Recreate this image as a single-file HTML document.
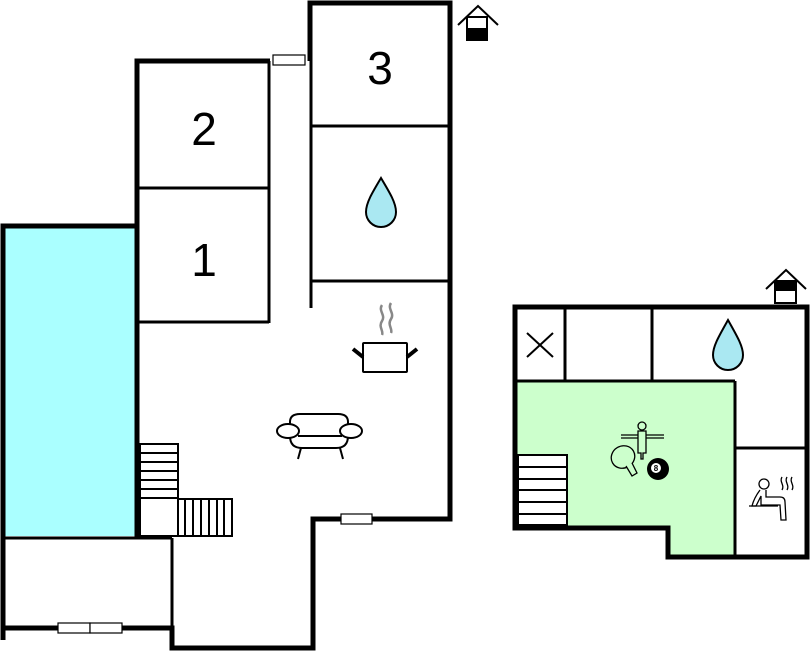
<!DOCTYPE html>
<html><head><style>html,body{margin:0;padding:0;background:#fff;width:810px;height:652px;overflow:hidden}</style></head>
<body>
<svg width="810" height="652" viewBox="0 0 810 652" xmlns="http://www.w3.org/2000/svg" font-family="Liberation Sans, sans-serif">
<!-- pool -->
<rect x="5" y="228" width="132" height="308" fill="#aaffff"/>
<!-- green -->
<polygon points="517,381 735,381 735,556 670,556 670,527 517,527" fill="#ccffcc"/>
<g stroke="#000" fill="none">
<!-- thick outer walls left building -->
<path d="M3,640 V226 H137 V61 H270 M310,61 V3 H450 V519 H313 V648 H172 V628 H3" stroke-width="5"/>
<line x1="137" y1="226" x2="137" y2="538" stroke-width="5"/>
<line x1="3" y1="537" x2="3" y2="630" stroke-width="4"/>
<!-- thin walls -->
<g stroke-width="3">
<line x1="269" y1="61" x2="269" y2="323"/>
<line x1="137" y1="188" x2="269" y2="188"/>
<line x1="137" y1="322" x2="269" y2="322"/>
<line x1="311" y1="61" x2="311" y2="308"/>
<line x1="311" y1="126" x2="450" y2="126"/>
<line x1="311" y1="281" x2="450" y2="281"/>
<line x1="3" y1="538" x2="172" y2="538"/>
<line x1="172" y1="538" x2="172" y2="628"/>
</g>
<!-- stairs left -->
<g stroke-width="2">
<rect x="140" y="444" width="38" height="92"/>
<line x1="140" y1="453" x2="178" y2="453"/><line x1="140" y1="462" x2="178" y2="462"/>
<line x1="140" y1="471" x2="178" y2="471"/><line x1="140" y1="480" x2="178" y2="480"/>
<line x1="140" y1="489" x2="178" y2="489"/><line x1="140" y1="498" x2="178" y2="498"/>
<rect x="178" y="499" width="54" height="37"/>
<line x1="185" y1="499" x2="185" y2="536"/><line x1="193" y1="499" x2="193" y2="536"/>
<line x1="201" y1="499" x2="201" y2="536"/><line x1="209" y1="499" x2="209" y2="536"/>
<line x1="217" y1="499" x2="217" y2="536"/><line x1="224" y1="499" x2="224" y2="536"/>
</g>
</g>
<!-- windows -->
<g fill="#fff" stroke="#000" stroke-width="1.2">
<rect x="273" y="55" width="32" height="10"/>
<rect x="341" y="514" width="31" height="10"/>
<rect x="58" y="623" width="32" height="10"/><rect x="90" y="623" width="32" height="10"/>
</g>
<!-- numbers -->
<g font-size="46" text-anchor="middle" fill="#000">
<text x="380" y="84">3</text>
<text x="204" y="145">2</text>
<text x="204" y="276">1</text>
</g>
<!-- drops -->
<path d="M381,178 C372,193 366,203 366,212 A15,15 0 0 0 396,212 C396,203 390,193 381,178 Z" fill="#aae8f2" stroke="#000" stroke-width="2"/>
<path d="M728,320 C719,336 713,346 713,355 A15,15 0 0 0 743,355 C743,346 737,336 728,320 Z" fill="#aae8f2" stroke="#000" stroke-width="2"/>
<!-- pot -->
<g stroke="#888" stroke-width="2.5" fill="none"><path d="M382,305 c-4,6 4,10 0,16 c-4,6 2,10 0,14"/><path d="M391,303 c-4,6 4,10 0,16 c-4,6 2,10 0,14"/></g>
<g stroke="#000" fill="none"><rect x="363" y="343" width="44" height="29" stroke-width="2" rx="1"/><line x1="353" y1="349" x2="363" y2="357" stroke-width="4"/><line x1="407" y1="357" x2="417" y2="349" stroke-width="4"/></g>
<!-- sofa -->
<g stroke="#000" stroke-width="2" fill="#fff">
<path d="M290,432 V422 q0,-8 10,-8 h38 q10,0 10,8 v10"/>
<path d="M290,432 v4 q0,12 12,12 h34 q12,0 12,-12 v-4"/>
<line x1="298" y1="436" x2="342" y2="436"/>
<ellipse cx="288" cy="431" rx="11" ry="7"/><ellipse cx="351" cy="431" rx="11" ry="7"/>
<line x1="301" y1="448" x2="298" y2="459"/><line x1="340" y1="448" x2="343" y2="459"/>
</g>
<!-- house icons -->
<g stroke="#000" stroke-width="2" fill="none">
<path d="M458,25 L478,6 L498,25"/><rect x="467" y="17" width="20" height="23"/>
<path d="M766,289 L786,270 L806,289"/><rect x="775" y="281" width="21" height="22"/>
</g>
<rect x="467" y="28" width="20" height="12" fill="#000"/>
<rect x="775" y="281" width="21" height="10" fill="#000"/>
<!-- right building walls -->
<g stroke="#000" fill="none">
<path d="M515,307 H807 V557 H668 V528 H515 Z" stroke-width="5"/>
<g stroke-width="3">
<line x1="565" y1="307" x2="565" y2="381"/>
<line x1="652" y1="307" x2="652" y2="381"/>
<line x1="515" y1="381" x2="735" y2="381"/>
<line x1="735" y1="381" x2="735" y2="557"/>
<line x1="735" y1="448" x2="807" y2="448"/>
</g>
<g stroke-width="2">
<line x1="527" y1="333" x2="553" y2="357"/><line x1="553" y1="333" x2="527" y2="357"/>
<rect x="518" y="455" width="49" height="70" fill="#fff"/>
<line x1="518" y1="467" x2="567" y2="467"/><line x1="518" y1="479" x2="567" y2="479"/>
<line x1="518" y1="490" x2="567" y2="490"/><line x1="518" y1="502" x2="567" y2="502"/>
<line x1="518" y1="514" x2="567" y2="514"/>
</g>
<!-- games -->
<g stroke-width="1.3">
<line x1="621" y1="435" x2="664" y2="435"/><line x1="621" y1="438" x2="664" y2="438"/>
<circle cx="642" cy="426" r="4" fill="#ccffcc"/>
<path d="M638,431 h8 v22 h-3 v6 h-2 v-6 h-3 Z" fill="#ccffcc"/>
<ellipse cx="623" cy="457" rx="12" ry="11" fill="#ccffcc" transform="rotate(-30 623 457)"/>
<path d="M626,466 l6,10 l5,-3 l-5,-10" fill="#ccffcc"/>
<!-- sauna -->
<circle cx="764" cy="484" r="5" fill="#fff"/>
<path d="M760,490 q-6,8 -8,16 h4 q3,-6 5,-10 v9 h19 l1,15 h5 l-1,-18 q0,-5 -5,-5 h-14 v-7" fill="#fff"/>
<line x1="749" y1="506" x2="778" y2="506"/>
<path d="M782,477 c-3,5 3,8 0,13 M787,477 c-3,5 3,8 0,13 M792,477 c-3,5 3,8 0,13" fill="none"/>
</g>
</g>
<circle cx="658" cy="469" r="11" fill="#000"/>
<circle cx="656" cy="468" r="5" fill="#fff"/>
<text x="656" y="471" font-size="8" font-weight="bold" text-anchor="middle" fill="#000">8</text>
</svg>
</body></html>
